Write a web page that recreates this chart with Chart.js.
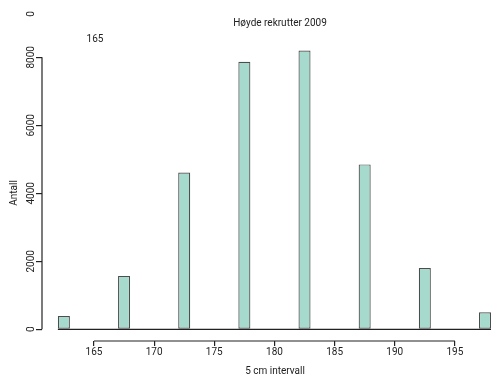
<!DOCTYPE html>
<html>
<head>
<meta charset="utf-8">
<script src="https://cdn.jsdelivr.net/npm/chart.js@4.4.1/dist/chart.umd.min.js"></script>
<style>
  html, body { margin: 0; padding: 0; background: #fff; }
  #wrap { width: 495px; height: 376px; }
</style>
</head>
<body>
<div id="wrap"><canvas id="hist"></canvas></div>
<script>
// bin midpoints (1 cm wide bins) and counts
let bin_mids = [162.5, 167.5, 172.5, 177.5, 182.5, 187.5, 192.5, 197.5]
let counts = [390, 1570, 4610, 7870, 8200, 4850, 1800, 500]
let x_ticks = [165, 170, 175, 180, 185, 190, 195]
let y_ticks = [0, 2000, 4000, 6000, 8000]
let baseline_span = [162, 198]

let title_text = 'Høyde rekrutter 2009'
let x_title = '5 cm intervall'
let y_title = 'Antall'

let font_family = '"Liberation Sans Narrow", "Roboto", sans-serif'
let text_color = '#222'

// axis lines only over the tick range, R style, plus rotated y labels and titles
let r_axes_plugin = {
    id: 'r_axes',
    afterDraw(chart) {
        let ctx = chart.ctx
        let xs = chart.scales.x
        let ys = chart.scales.y
        let area = chart.chartArea
        ctx.save()
        ctx.strokeStyle = '#222'
        ctx.lineWidth = 1.2
        // y axis line
        ctx.beginPath()
        ctx.moveTo(area.left, ys.getPixelForValue(y_ticks[0]))
        ctx.lineTo(area.left, ys.getPixelForValue(y_ticks[y_ticks.length - 1]))
        ctx.stroke()
        // x axis line
        ctx.beginPath()
        ctx.moveTo(xs.getPixelForValue(x_ticks[0]), area.bottom)
        ctx.lineTo(xs.getPixelForValue(x_ticks[x_ticks.length - 1]), area.bottom)
        ctx.stroke()

        ctx.fillStyle = text_color
        ctx.font = '10px ' + font_family
        ctx.textAlign = 'center'
        ctx.textBaseline = 'middle'
        // y tick labels, rotated
        ys.ticks.forEach(t => {
            ctx.save()
            ctx.translate(31, ys.getPixelForValue(t.value))
            ctx.rotate(-Math.PI / 2)
            ctx.fillText(String(t.value), 0, 0)
            ctx.restore()
        })
        // stray labels left over in the source image
        ctx.save()
        ctx.translate(31, 14)
        ctx.rotate(-Math.PI / 2)
        ctx.fillText('0', 0, 0)
        ctx.restore()
        ctx.fillText('165', 95, 39)

        // titles
        ctx.fillText(title_text, 280, 23)
        ctx.fillText(x_title, 275, 371)
        ctx.save()
        ctx.translate(14, 193)
        ctx.rotate(-Math.PI / 2)
        ctx.fillText(y_title, 0, 0)
        ctx.restore()
        ctx.restore()
    }
}

document.addEventListener("DOMContentLoaded", () => {
    Chart.defaults.font.family = font_family
    Chart.defaults.font.size = 10
    Chart.defaults.color = text_color
    Chart.defaults.plugins.legend.display = false
    Chart.defaults.plugins.tooltip.enabled = false

    let bar_points = bin_mids.map((m, i) => ({x: m, y: counts[i]}))

    let hist_chart = new Chart(document.getElementById("hist"), {
        type: 'bar',
        data: {
            datasets: [{
                type: 'line',
                data: baseline_span.map(v => ({x: v, y: 0})),
                borderColor: '#222',
                borderWidth: 1.2,
                pointRadius: 0,
                order: 2
            }, {
                data: bar_points,
                backgroundColor: 'rgb(166,218,204)',
                borderColor: '#4d4d4d',
                borderWidth: 1.2,
                borderSkipped: false,
                barPercentage: 0.2,
                categoryPercentage: 1,
                order: 1
            }]
        },
        options: {
            responsive: true,
            maintainAspectRatio: false,
            animation: false,
            layout: {padding: {left: 0, right: 4, top: 45, bottom: 0}},
            scales: {
                x: {
                    type: 'linear',
                    offset: false,
                    min: 160.68,
                    max: 198,
                    afterBuildTicks: (s) => { s.ticks = x_ticks.map(v => ({value: v})) },
                    afterFit: (s) => { s.height = 35 },
                    grid: {offset: false, drawOnChartArea: false, drawTicks: true, tickLength: 5, color: '#222', lineWidth: 1.2},
                    border: {display: false},
                    ticks: {padding: 0, maxRotation: 0, color: text_color, font: {size: 10}}
                },
                y: {
                    type: 'linear',
                    min: -344,
                    max: 8362,
                    afterBuildTicks: (s) => { s.ticks = y_ticks.map(v => ({value: v})) },
                    afterFit: (s) => { s.width = 42 },
                    grid: {drawOnChartArea: false, drawTicks: true, tickLength: 6, color: '#222', lineWidth: 1.2},
                    border: {display: false},
                    ticks: {display: false}
                }
            }
        },
        plugins: [r_axes_plugin]
    })
})
</script>
</body>
</html>
